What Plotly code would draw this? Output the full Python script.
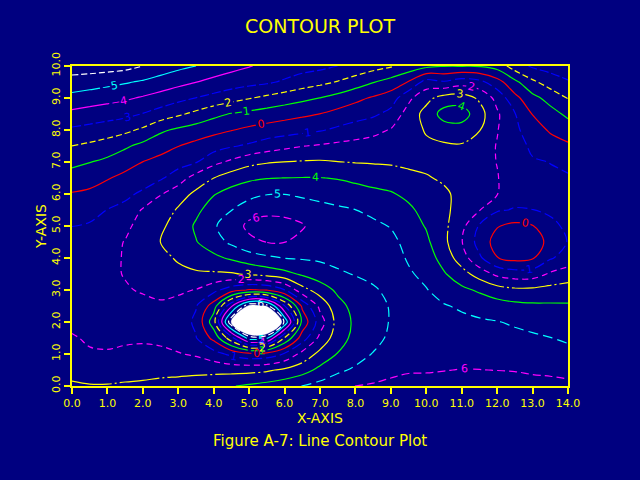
import plotly.graph_objects as go

# ---- grid coordinates ----
x_values = [0.0, 0.5, 1.0, 1.5, 2.0, 2.5, 3.0, 3.5, 4.0, 4.5, 5.0, 5.5, 6.0, 6.5, 7.0,
            7.5, 8.0, 8.5, 9.0, 9.5, 10.0, 10.5, 11.0, 11.5, 12.0, 12.5, 13.0, 13.5, 14.0]
y_values = [0.0, 0.5, 1.0, 1.5, 2.0, 2.5, 3.0, 3.5, 4.0, 4.5, 5.0,
            5.5, 6.0, 6.5, 7.0, 7.5, 8.0, 8.5, 9.0, 9.5, 10.0]

# ---- field values estimated from the contour picture, one row per y ----
z_y0_0 = [3.1, 3.05, 3.05, 3.1, 3.15, 3.25, 3.35, 3.5, 3.75, 3.95, 4.15, 4.35, 4.6, 5.02, 5.33,
          5.65, 6.01, 6.1, 6.15, 6.18, 6.22, 6.28, 6.32, 6.32, 6.3, 6.28, 6.25, 6.25, 6.2]
z_y0_5 = [2.77, 2.62, 2.62, 2.7, 2.72, 2.75, 2.74, 2.74, 2.71, 2.69, 2.72, 2.85, 3.18, 3.57, 4.27,
          4.82, 5.15, 5.55, 5.85, 5.95, 5.95, 5.98, 6.02, 6.01, 5.99, 5.97, 5.9, 5.84, 5.75]
z_y1_0 = [2.42, 2.08, 2.04, 2.12, 2.18, 2.15, 2.06, 1.87, 1.4, 0.75, 0.3, 0.4, 1.1, 2.32, 3.28,
          4.05, 4.6, 5.05, 5.45, 5.8, 5.75, 5.75, 5.75, 5.72, 5.67, 5.62, 5.5, 5.43, 5.28]
z_y1_5 = [2.07, 1.9, 1.9, 1.9, 1.9, 1.85, 1.55, 1.05, -0.3, -2.65, -5.42, -5.19, -1.94, 0.5, 2.26,
          3.55, 4.3, 4.65, 5.2, 5.7, 5.5, 5.5, 5.48, 5.42, 5.35, 5.27, 5.15, 5.02, 4.85]
z_y2_0 = [1.82, 1.82, 1.85, 1.85, 1.78, 1.72, 1.45, 0.85, -1.6, -6.85, -10.65, -10.44, -5.81, -0.7, 1.5,
          3.4, 4.2, 4.5, 5.08, 5.6, 5.35, 5.3, 5.22, 5.13, 5.04, 4.87, 4.7, 4.6, 4.49]
z_y2_5 = [1.7, 1.78, 1.82, 1.85, 1.85, 1.9, 1.7, 1.05, -0.5, -3.87, -6.85, -6.47, -3.05, 0.2, 2.28,
          3.65, 4.35, 4.6, 5.08, 5.5, 5.2, 5.07, 4.87, 4.62, 4.43, 4.27, 4.18, 4.15, 4.12]
z_y3_0 = [1.65, 1.75, 1.85, 1.95, 2.05, 2.16, 2.15, 1.96, 1.3, 0.44, -0.1, 0.05, 0.95, 2.64, 3.46,
          4.2, 4.65, 4.9, 5.2, 5.35, 5.05, 4.6, 4.22, 3.86, 3.45, 3.22, 3.23, 3.35, 3.43]
z_y3_5 = [1.6, 1.7, 1.88, 2.03, 2.3, 2.44, 2.74, 2.87, 2.86, 2.9, 3.12, 3.4, 3.7, 4.14, 4.53,
          4.87, 5.05, 5.2, 5.45, 5.12, 4.75, 4.1, 3.39, 2.58, 1.77, 1.47, 1.5, 2.14, 2.49]
z_y4_0 = [1.5, 1.6, 1.82, 2.05, 2.5, 2.72, 3.12, 3.42, 3.77, 4.15, 4.54, 4.81, 5.02, 5.09, 5.15,
          5.25, 5.3, 5.35, 5.4, 4.9, 4.5, 3.6, 2.5, 1.18, 0.03, -0.3, -0.1, 0.9, 1.4]
z_y4_5 = [1.3, 1.4, 1.6, 2.05, 2.58, 3.02, 3.3, 3.95, 4.55, 5.2, 5.73, 6.03, 6.02, 5.7, 5.4,
          5.45, 5.4, 5.35, 5.25, 4.7, 4.2, 3.25, 2.05, 0.6, -0.4, -0.7, -0.6, 0.35, 1.05]
z_y5_0 = [0.99, 1.1, 1.3, 1.73, 2.45, 2.87, 3.3, 4.15, 4.9, 5.45, 6.25, 6.3, 6.25, 6.1, 5.5,
          5.4, 5.3, 5.2, 4.95, 4.45, 3.93, 3.22, 2.3, 0.9, 0.06, -0.25, -0.05, 0.85, 1.12]
z_y5_5 = [0.53, 0.67, 1.02, 1.27, 2.1, 2.42, 3.12, 3.76, 4.5, 4.98, 5.55, 5.81, 5.79, 5.5, 5.3,
          5.15, 5.01, 4.77, 4.52, 4.2, 3.65, 3.2, 2.65, 2.05, 1.11, 0.93, 0.99, 1.1, 1.2]
z_y6_0 = [0.07, 0.19, 0.47, 0.79, 1.17, 1.95, 2.56, 3.21, 3.94, 4.37, 4.69, 4.96, 4.98, 4.84, 4.72,
          4.6, 4.43, 4.25, 4.1, 3.76, 3.35, 3.12, 2.8, 2.2, 2.03, 1.4, 1.25, 1.2, 1.2]
z_y6_5 = [-0.57, -0.38, -0.07, 0.26, 0.55, 0.87, 1.53, 2.42, 2.99, 3.54, 3.82, 3.96, 4.01, 4.03, 4.03,
          3.94, 3.78, 3.62, 3.48, 3.25, 3.06, 2.9, 2.8, 2.25, 2.04, 1.55, 1.25, 1.15, 1.1]
z_y7_0 = [-1.25, -1.03, -0.76, -0.38, 0.01, 0.29, 0.6, 0.93, 1.73, 2.2, 2.71, 2.92, 3.01, 3.08, 3.11,
          3.02, 2.96, 2.92, 2.88, 2.8, 2.82, 2.75, 2.8, 2.3, 1.98, 1.55, 1.1, 0.98, 0.76]
z_y7_5 = [-1.99, -1.8, -1.56, -1.15, -0.72, -0.36, -0.02, 0.28, 0.56, 0.91, 1.15, 1.5, 1.76, 1.97, 2.1,
          2.25, 2.34, 2.39, 2.47, 2.6, 2.8, 2.85, 2.9, 2.5, 1.95, 1.45, 0.8, 0.37, 0.16]
z_y8_0 = [-2.83, -2.67, -2.47, -2.24, -1.82, -1.17, -0.82, -0.53, -0.27, -0.04, 0.21, 0.4, 0.56, 0.73, 0.91,
          1.19, 1.47, 1.74, 2.06, 2.5, 3.1, 3.51, 3.54, 3.05, 2.05, 1.25, 0.39, -0.1, -0.5]
z_y8_5 = [-3.74, -3.58, -3.42, -3.26, -2.96, -2.57, -2.16, -1.75, -1.27, -0.93, -0.75, -0.55, -0.36, -0.18, 0.01,
          0.32, 0.57, 0.82, 1.32, 2.42, 3.35, 4.4, 4.5, 3.4, 2.15, 1.05, -0.03, -0.63, -1.21]
z_y9_0 = [-4.68, -4.5, -4.33, -4.15, -3.89, -3.61, -3.29, -2.98, -2.7, -2.38, -2.06, -1.78, -1.5, -1.24, -0.99,
          -0.65, -0.24, 0.11, 0.49, 1.77, 2.71, 3.4, 3.46, 2.85, 1.67, 0.29, -0.7, -1.36, -2.04]
z_y9_5 = [-5.61, -5.47, -5.3, -5.1, -4.88, -4.59, -4.3, -4.02, -3.72, -3.49, -3.31, -3.15, -2.86, -2.52, -2.26,
          -1.94, -1.51, -1.06, -0.6, 0.06, 1.39, 1.1, 1.56, 1.28, 0.4, -0.76, -1.8, -2.48, -2.91]
z_y10_0 = [-6.5, -6.5, -6.43, -6.32, -6.0, -5.58, -5.25, -5.0, -4.65, -4.31, -4.05, -3.8, -3.6, -3.4, -3.25,
           -3.0, -2.75, -2.4, -2.1, -1.65, -1.25, -1.05, -1.05, -1.08, -1.4, -2.5, -3.15, -3.4, -3.6]

z_grid = [z_y0_0, z_y0_5, z_y1_0, z_y1_5, z_y2_0, z_y2_5, z_y3_0, z_y3_5, z_y4_0, z_y4_5,
          z_y5_0, z_y5_5, z_y6_0, z_y6_5, z_y7_0, z_y7_5, z_y8_0, z_y8_5, z_y9_0, z_y9_5, z_y10_0]

contour_levels = [-6, -5, -4, -3, -2, -1, 0, 1, 2, 3, 4, 5, 6]
core_level = -6.6
x_tick_values = [0, 1, 2, 3, 4, 5, 6, 7, 8, 9, 10, 11, 12, 13, 14]
y_tick_values = [0, 1, 2, 3, 4, 5, 6, 7, 8, 9, 10]

# ---- styles ----
level_colors = {-6: "#FFFFFF", -5: "#00FFFF", -4: "#FF00FF", -3: "#0000FF", -2: "#FFFF00",
                -1: "#00FF00", 0: "#FF0000", 1: "#0000FF", 2: "#FF00FF", 3: "#FFFF00",
                4: "#00FF00", 5: "#00FFFF", 6: "#FF00FF"}
level_dashes = {-6: "6px,3px", -5: "solid", -4: "solid", -3: "9px,3px", -2: "6px,3px",
                -1: "solid", 0: "solid", 1: "10px,4px", 2: "6px,4px", 3: "40px,3px,2px,3px",
                4: "solid", 5: "10px,5px", 6: "8px,4px"}

BG = "#000080"
FG = "#FFFF00"
FONT = "DejaVu Sans"

fig = go.Figure()

# white core of the deep minimum (shades where z < core_level)
fig.add_trace(go.Contour(
    x=x_values, y=y_values, z=z_grid,
    contours=dict(type="constraint", operation=">", value=core_level),
    fillcolor="white", line=dict(color="white", width=0.5, smoothing=1.0),
    showscale=False, hoverinfo="skip"))

for lev in contour_levels:
    col = level_colors[lev]
    fig.add_trace(go.Contour(
        x=x_values, y=y_values, z=z_grid,
        autocontour=False,
        contours=dict(start=lev, end=lev + 0.5, size=1, coloring="none",
                      showlabels=True,
                      labelfont=dict(color=col, size=11, family=FONT)),
        line=dict(color=col, width=1.2, dash=level_dashes[lev], smoothing=1.0),
        showscale=False, hoverinfo="skip"))

axis_common = dict(showgrid=False, zeroline=False, showline=True, linecolor=FG, linewidth=2,
                   mirror=True, ticks="outside", ticklen=6, tickwidth=2, tickcolor=FG,
                   tickfont=dict(color=FG, size=11, family=FONT), tickformat=".1f")

fig.update_layout(
    width=640, height=480,
    paper_bgcolor=BG, plot_bgcolor=BG,
    margin=dict(l=72, r=72, t=66, b=94),
    showlegend=False,
    title=dict(text="CONTOUR PLOT", x=0.5, xanchor="center", y=1 - 26 / 480, yanchor="middle",
               font=dict(color=FG, size=19, family=FONT)),
    xaxis=dict(range=[0, 14], tickvals=x_tick_values, **axis_common,
               title=dict(text="X-AXIS", font=dict(color=FG, size=14, family=FONT), standoff=2)),
    yaxis=dict(range=[0, 10], tickvals=y_tick_values, tickangle=-90, **axis_common,
               title=dict(text="Y-AXIS", font=dict(color=FG, size=14, family=FONT), standoff=0)),
    annotations=[dict(text="Figure A-7: Line Contour Plot", xref="paper", yref="paper",
                      x=0.5, y=-(441 - 386) / 320, xanchor="center", yanchor="middle",
                      showarrow=False, font=dict(color=FG, size=15, family=FONT))],
)

fig.write_html("out.html", config={"responsive": False, "displayModeBar": False},
               post_script="document.body.style.margin='0';document.body.style.background='#000080';")
